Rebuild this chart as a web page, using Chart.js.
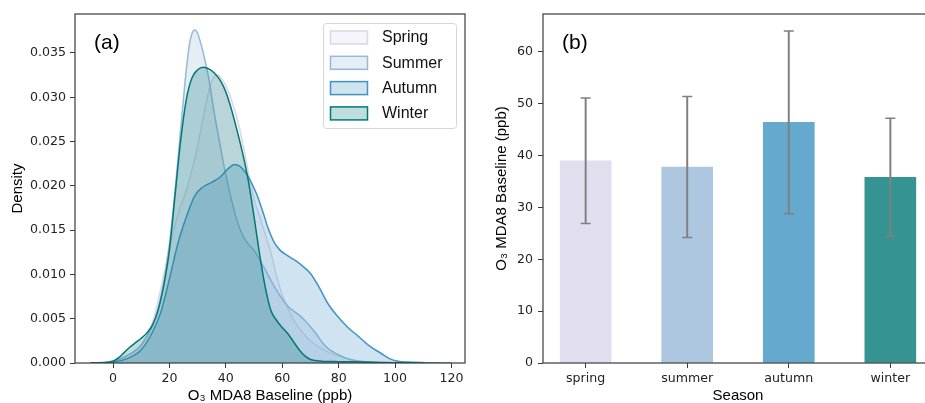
<!DOCTYPE html>
<html>
<head>
<meta charset="utf-8">
<script src="https://cdn.jsdelivr.net/npm/chart.js@4"></script>
<style>
html, body { margin: 0; padding: 0; background: #fff; }
.panel { position: absolute; top: 0; height: 403px; overflow: hidden; }
#panelA { left: 0; width: 470px; }
#panelB { left: 470px; width: 455px; }
.box { position: relative; width: 470px; height: 410px; }
</style>
</head>
<body>
<div class="panel" id="panelA"><div class="box"><canvas id="kde"></canvas></div></div>
<div class="panel" id="panelB"><div class="box"><canvas id="bars"></canvas></div></div>
<script>
// panel (a): kde curves
const seasonNames = ['Spring', 'Summer', 'Autumn', 'Winter'];
const seasonColors = ['#dad7eb', '#99b9d9', '#4094c3', '#027876'];

const springX = [-8, -2, 2, 6, 10, 14, 17, 20, 23, 26, 28, 30, 32, 34, 35, 36, 37, 38, 40, 42, 44, 46, 48, 50, 52, 54, 56, 58, 60, 62, 64, 67, 70, 74, 78, 82, 88, 95, 105];
const springY = [0, 0.0001, 0.0004, 0.001, 0.0021, 0.0046, 0.0085, 0.013, 0.0168, 0.0195, 0.0218, 0.0245, 0.0278, 0.0308, 0.0318, 0.0324, 0.0325, 0.0323, 0.0313, 0.0297, 0.0276, 0.0248, 0.0215, 0.0185, 0.0165, 0.0145, 0.0124, 0.0098, 0.0077, 0.0062, 0.0049, 0.0035, 0.0025, 0.0016, 0.001, 0.0006, 0.0002, 0.0001, 0];

const summerX = [-8, -2, 2, 6, 10, 14, 16, 18, 20, 22, 24, 26, 27, 28, 29, 30, 31, 32, 34, 36, 38, 40, 42, 44, 46, 48, 50, 54, 58, 62, 66, 68, 70, 72, 74, 76, 80, 84, 90, 96, 104];
const summerY = [0, 0.0001, 0.0004, 0.001, 0.002, 0.0042, 0.0062, 0.0092, 0.0135, 0.0195, 0.0265, 0.0332, 0.0358, 0.0372, 0.0376, 0.0372, 0.0362, 0.035, 0.032, 0.028, 0.0245, 0.0212, 0.0184, 0.016, 0.0144, 0.0134, 0.0127, 0.0105, 0.0082, 0.0064, 0.0054, 0.0048, 0.0041, 0.0033, 0.0024, 0.0017, 0.0009, 0.0004, 0.0001, 0.00003, 0];

const autumnX = [-8, 0, 5, 10, 14, 17, 20, 23, 26, 29, 32, 35, 38, 41, 43, 45, 47, 49, 51, 53, 55, 57, 59, 62, 65, 67, 70, 73, 76, 79, 83, 87, 91, 95, 98, 101, 105, 112, 120];
const autumnY = [0, 0.0001, 0.0005, 0.0015, 0.0035, 0.0058, 0.0095, 0.0135, 0.0165, 0.0189, 0.0199, 0.0204, 0.021, 0.022, 0.0224, 0.0222, 0.0215, 0.0204, 0.019, 0.0172, 0.0152, 0.0137, 0.0128, 0.0121, 0.0115, 0.011, 0.0101, 0.0086, 0.0068, 0.0055, 0.0041, 0.003, 0.0019, 0.0011, 0.0005, 0.0002, 0.0001, 0.00003, 0];

const winterX = [-8, -2, 0, 2, 4, 6, 8, 10, 12, 14, 16, 18, 20, 22, 24, 26, 28, 30, 32, 34, 36, 38, 40, 42, 44, 46, 48, 50, 52, 54, 56, 58, 60, 62, 64, 66, 68, 70, 74, 80, 90, 100, 110];
const winterY = [0, 0.00005, 0.0002, 0.0006, 0.0012, 0.0018, 0.0023, 0.0028, 0.0034, 0.0043, 0.006, 0.0088, 0.0128, 0.019, 0.0252, 0.0298, 0.0322, 0.0331, 0.0334, 0.0332, 0.0327, 0.0319, 0.0306, 0.0286, 0.0262, 0.0236, 0.0205, 0.0165, 0.0122, 0.0085, 0.0059, 0.0048, 0.004, 0.0033, 0.0024, 0.0015, 0.0008, 0.0004, 0.0002, 0.00015, 0.0001, 0.00003, 0];

const kdeTicks = [0, 20, 40, 60, 80, 100, 120];
const densityTicks = [0, 0.005, 0.01, 0.015, 0.02, 0.025, 0.03, 0.035];

// panel (b): seasonal means with std error bars
const seasons = ['spring', 'summer', 'autumn', 'winter'];
const meanO3 = [39.0, 37.8, 46.4, 35.8];
const stdO3 = [12.1, 13.6, 17.6, 11.4];
const o3Ticks = [0, 10, 20, 30, 40, 50, 60];

const tickFont = { family: 'DejaVu Sans', size: 12.6 };
const titleFont = { family: 'Liberation Sans', size: 15, lineHeight: 1.2 };
const frameColor = '#3a3a3a';

function alpha(hex, a) {
  const n = parseInt(hex.slice(1), 16);
  return 'rgba(' + (n >> 16) + ',' + ((n >> 8) & 255) + ',' + (n & 255) + ',' + a + ')';
}

function pairs(xs, ys) {
  return xs.map((x, i) => ({ x: x, y: ys[i] }));
}

const frame = {
  id: 'frame',
  afterDraw(chart) {
    const a = chart.chartArea, ctx = chart.ctx;
    ctx.save();
    ctx.strokeStyle = frameColor;
    ctx.lineWidth = 1.2;
    ctx.strokeRect(a.left, a.top, a.right - a.left, a.bottom - a.top);
    ctx.fillStyle = '#000';
    ctx.font = '21px "Liberation Sans"';
    ctx.textBaseline = 'middle';
    ctx.fillText(chart.options.plugins.frame.tag, a.left + 19, 43);
    ctx.restore();
  }
};

const kdeLegend = {
  id: 'kdeLegend',
  afterDraw(chart) {
    const ctx = chart.ctx;
    ctx.save();
    ctx.beginPath();
    ctx.roundRect(323.5, 23.5, 133, 105, 3);
    ctx.fillStyle = 'rgba(255,255,255,0.8)';
    ctx.fill();
    ctx.strokeStyle = '#d6d6d6';
    ctx.lineWidth = 1;
    ctx.stroke();
    ctx.font = '16px "Liberation Sans"';
    ctx.textBaseline = 'middle';
    seasonNames.forEach((name, i) => {
      const y = 37.5 + i * 25.3;
      ctx.fillStyle = alpha(seasonColors[i], 0.25);
      ctx.fillRect(330.5, y - 6.5, 37, 13);
      ctx.strokeStyle = seasonColors[i];
      ctx.lineWidth = 1.5;
      ctx.strokeRect(330.5, y - 6.5, 37, 13);
      ctx.fillStyle = '#111';
      ctx.fillText(name, 382, y + 0.5);
    });
    ctx.restore();
  }
};

const errorBars = {
  id: 'errorBars',
  afterDatasetsDraw(chart) {
    const xs = chart.scales.x, ys = chart.scales.y, ctx = chart.ctx;
    ctx.save();
    ctx.strokeStyle = '#808080';
    meanO3.forEach((m, i) => {
      const x = xs.getPixelForValue(i);
      const top = ys.getPixelForValue(m + stdO3[i]);
      const bot = ys.getPixelForValue(m - stdO3[i]);
      ctx.lineWidth = 2;
      ctx.beginPath();
      ctx.moveTo(x, top);
      ctx.lineTo(x, bot);
      ctx.stroke();
      ctx.lineWidth = 1.5;
      ctx.beginPath();
      ctx.moveTo(x - 5, top);
      ctx.lineTo(x + 5, top);
      ctx.moveTo(x - 5, bot);
      ctx.lineTo(x + 5, bot);
      ctx.stroke();
    });
    ctx.restore();
  }
};

const tickGrid = { display: true, drawOnChartArea: false, drawTicks: true, tickLength: 5, color: frameColor, lineWidth: 1, offset: false };

const kdeSets = [
  [springX, springY],
  [summerX, summerY],
  [autumnX, autumnY],
  [winterX, winterY]
].map((s, i) => ({
  label: seasonNames[i],
  data: pairs(s[0], s[1]),
  order: 3 - i,
  borderColor: seasonColors[i],
  backgroundColor: alpha(seasonColors[i], 0.25),
  borderWidth: 1.5,
  fill: 'origin',
  pointRadius: 0,
  tension: 0.4,
  cubicInterpolationMode: 'monotone'
}));

new Chart(document.getElementById('kde'), {
  type: 'line',
  data: { datasets: kdeSets },
  options: {
    responsive: true,
    maintainAspectRatio: false,
    animation: false,
    layout: { padding: { left: 0, right: 5, top: 14, bottom: 0 } },
    plugins: { legend: { display: false }, tooltip: { enabled: false }, frame: { tag: '(a)' } },
    scales: {
      x: {
        type: 'linear', min: -13.5, max: 124.8,
        afterFit: s => { s.height = 47; },
        afterBuildTicks: s => { s.ticks = kdeTicks.map(v => ({ value: v })); },
        grid: tickGrid, border: { display: false },
        ticks: { font: tickFont, color: '#222', padding: 3, maxRotation: 0 },
        title: { display: true, text: 'O\u2083 MDA8 Baseline (ppb)', font: titleFont, color: '#000', padding: { top: 0, bottom: 5.5 } }
      },
      y: {
        min: 0, max: 0.0394,
        afterFit: s => { s.width = 75; },
        afterBuildTicks: s => { s.ticks = densityTicks.map(v => ({ value: v })); },
        grid: tickGrid, border: { display: false },
        ticks: { font: tickFont, color: '#222', padding: 4, callback: v => v.toFixed(3) },
        title: { display: true, text: 'Density', font: titleFont, color: '#000', padding: { top: 9, bottom: 0 } }
      }
    }
  },
  plugins: [frame, kdeLegend]
});

new Chart(document.getElementById('bars'), {
  type: 'bar',
  data: {
    datasets: [{
      label: 'O3',
      data: meanO3.map((m, i) => ({ x: i, y: m })),
      backgroundColor: seasonColors.map(c => alpha(c, 0.8)),
      borderWidth: 0,
      barThickness: 51
    }]
  },
  options: {
    responsive: true,
    maintainAspectRatio: false,
    animation: false,
    layout: { padding: { left: 0, right: 7, top: 14, bottom: 0 } },
    plugins: { legend: { display: false }, tooltip: { enabled: false }, frame: { tag: '(b)' } },
    scales: {
      x: {
        type: 'linear', min: -0.42, max: 3.42, offset: false,
        afterFit: s => { s.height = 47; },
        afterBuildTicks: s => { s.ticks = seasons.map((v, i) => ({ value: i })); },
        grid: tickGrid, border: { display: false },
        ticks: { font: tickFont, color: '#222', padding: 3, maxRotation: 0, callback: v => seasons[v] },
        title: { display: true, text: 'Season', font: titleFont, color: '#000', padding: { top: 0, bottom: 5.5 } }
      },
      y: {
        min: 0, max: 67.3,
        afterFit: s => { s.width = 73; },
        afterBuildTicks: s => { s.ticks = o3Ticks.map(v => ({ value: v })); },
        grid: tickGrid, border: { display: false },
        ticks: { font: tickFont, color: '#222', padding: 5 },
        title: { display: true, text: 'O\u2083 MDA8 Baseline (ppb)', font: titleFont, color: '#000', padding: { top: 23, bottom: 0 } }
      }
    }
  },
  plugins: [frame, errorBars]
});
</script>
</body>
</html>
